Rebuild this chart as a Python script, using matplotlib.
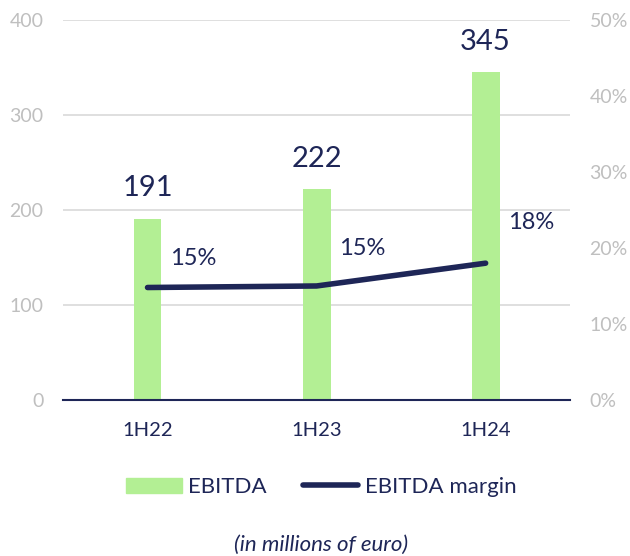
import numpy as np
import matplotlib.pyplot as plt
from matplotlib.lines import Line2D
from matplotlib.patches import Patch

periods = ["1H22", "1H23", "1H24"]
ebitda = [191, 222, 345]
margin = [14.8, 15.0, 18.0]
margin_labels = ["15%", "15%", "18%"]

navy = "#1e2657"
green = "#b3ef94"
grey = "#bfbfbf"

plt.rcParams['font.family'] = ['Lato', 'DejaVu Sans']

fig = plt.figure(figsize=(6.3, 5.56), dpi=100)
ax = fig.add_axes([0.1, 0.2806, 0.805, 0.6835])
ax2 = ax.twinx()

x = np.arange(len(periods))
ax.bar(x, ebitda, width=0.165, color=green, zorder=2)
ax.set_ylim(0, 400)
ax.set_xlim(-0.5, 2.5)
ax.set_yticks([0, 100, 200, 300, 400])
ax.yaxis.grid(True, color="#d9d9d9", lw=1.2, zorder=0)
ax.set_axisbelow(True)
ax.set_xticks(x)
ax.set_xticklabels(periods, fontsize=14.5, color=navy)
ax.tick_params(axis='x', length=0, pad=16)
ax.tick_params(axis='y', length=0, labelsize=14, labelcolor=grey, pad=14)
for s in ["top", "left", "right"]:
    ax.spines[s].set_visible(False)
ax.spines["bottom"].set_color(navy)
ax.spines["bottom"].set_linewidth(1.5)

ax2.plot(x, margin, color=navy, lw=4, solid_capstyle='round', zorder=3)
ax2.set_ylim(0, 50)
ax2.set_yticks([0, 10, 20, 30, 40, 50])
ax2.set_yticklabels([f"{v}%" for v in [0, 10, 20, 30, 40, 50]])
ax2.tick_params(axis='y', length=0, labelsize=14, labelcolor=grey, pad=14)
for s in ax2.spines.values():
    s.set_visible(False)

for xi, v in zip(x, ebitda):
    ax.annotate(str(v), (xi, v), xytext=(0, 22), textcoords="offset points",
                ha="center", va="center", fontsize=21, color=navy)

# label offsets (points) above the line, as placed in the original
label_dy = [21, 27, 29]
for xi, v, lab, dy in zip(x, margin, margin_labels, label_dy):
    ax2.annotate(lab, (xi, v), xytext=(33, dy), textcoords="offset points",
                 ha="center", va="center", fontsize=17, color=navy)

handles = [Patch(color=green, label="EBITDA"),
           Line2D([0], [0], color=navy, lw=4, solid_capstyle='round', label="EBITDA margin")]
fig.legend(handles=handles, loc="center", bbox_to_anchor=(0.51, 0.124), ncol=2,
           frameon=False, fontsize=16, labelcolor=navy, handlelength=2.5,
           handletextpad=0.3, columnspacing=1.6)

fig.text(0.51, 0.02, "(in millions of euro)", ha="center", va="center",
         fontsize=16, style="italic", color=navy)

fig.savefig("out.png", dpi=100)
